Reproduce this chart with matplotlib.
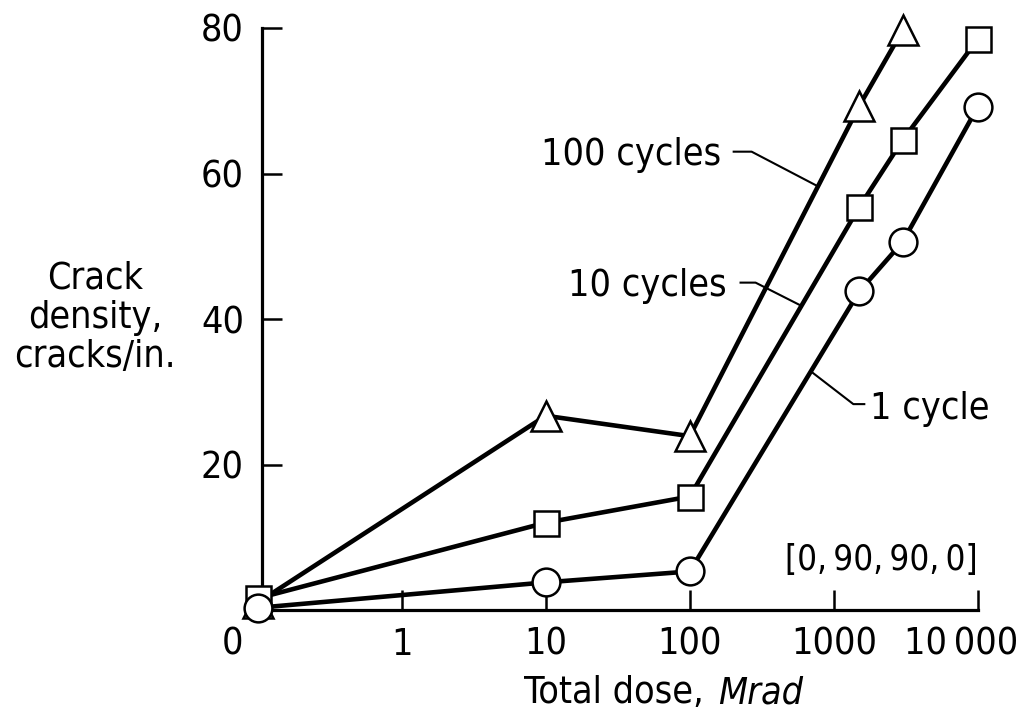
import os
import matplotlib
matplotlib.use('Agg')
import matplotlib.pyplot as plt
import matplotlib.transforms as mtransforms
from matplotlib import font_manager as fm
from matplotlib.ticker import NullLocator

# ---- data ----
x_ticks = [1, 10, 100, 1000, 10000]
x_tick_labels = ['1', '10', '100', '1000', '10\u2009000']
y_ticks = [20, 40, 60, 80]
y_tick_labels = ['20', '40', '60', '80']
ZERO_AT = 0.1  # log-axis position standing for zero dose

dose_100 = [0, 10, 100, 1500, 3000]
density_100 = [1.0, 26.7, 23.9, 69.3, 79.7]
dose_10 = [0, 10, 100, 1500, 3000, 10000]
density_10 = [1.6, 12.0, 15.6, 55.4, 64.6, 78.5]
dose_1 = [0, 10, 100, 1500, 3000, 10000]
density_1 = [0.3, 3.8, 5.3, 43.8, 50.6, 69.2]


# ---- font: look for a narrow / condensed sans face ----
def find_face(italic=False):
    bad = ['bold', 'light', 'thin', 'semi', 'medium', 'black', 'mono', 'serif',
           'extra', 'heavy']
    prefs = ['liberationsansnarrow', 'dejavusanscondensed', 'robotocondensed',
             'opensanscondensed', 'opensans_condensed', 'notosanscondensed',
             'narrow', 'condensed']
    files = sorted({f.fname for f in fm.fontManager.ttflist})
    for key in prefs:
        for path in files:
            b = os.path.basename(path).lower().replace('-', '').replace(' ', '')
            if key not in b:
                continue
            if any(w in b for w in bad):
                continue
            is_it = ('italic' in b) or ('oblique' in b)
            if is_it == italic:
                return path
    return None


narrow = find_face(False)
narrow_it = find_face(True)
FS = 27 if narrow else 24
if narrow:
    fp = fm.FontProperties(fname=narrow, size=FS)
    fpi = fm.FontProperties(fname=narrow_it, size=FS) if narrow_it else \
        fm.FontProperties(family='Liberation Sans', style='italic', size=FS)
else:
    fp = fm.FontProperties(family=['Liberation Sans', 'DejaVu Sans'], size=FS)
    fpi = fm.FontProperties(family=['Liberation Sans', 'DejaVu Sans'],
                            style='italic', size=FS)
fps = fp.copy()
fps.set_size(FS - 2)


def pos(d):
    return [ZERO_AT if v == 0 else v for v in d]


W, H = 1021, 714
fig = plt.figure(figsize=(W / 100, H / 100), dpi=100)
ax = fig.add_axes([262 / W, 1 - 610 / H, (978 - 262) / W, (610 - 28) / H])
ax.set_xscale('log')
ax.set_xlim(10 ** -0.969, 10000)
ax.set_ylim(0, 80)

LW = 3.3
mk = dict(markerfacecolor='white', markeredgecolor='black', markeredgewidth=1.8,
          color='black', lw=LW, clip_on=False)
ax.plot(pos(dose_100), density_100, marker='^', markersize=21, zorder=3, **mk)
ax.plot(pos(dose_10), density_10, marker='s', markersize=18, zorder=4, **mk)
ax.plot(pos(dose_1), density_1, marker='o', markersize=20, zorder=5, **mk)

for s in ['top', 'right']:
    ax.spines[s].set_visible(False)
for s in ['left', 'bottom']:
    ax.spines[s].set_linewidth(2.3)

ax.set_xticks(x_ticks, labels=x_tick_labels, fontproperties=fp)
ax.xaxis.set_minor_locator(NullLocator())
ax.set_yticks(y_ticks, labels=y_tick_labels, fontproperties=fp)
ax.tick_params(axis='both', direction='in', length=14.5, width=1.8)
ax.tick_params(axis='x', pad=12)
ax.tick_params(axis='y', pad=13)

# keep the last x label inside the figure, as in the reference
last = ax.get_xticklabels()[-1]
last.set_horizontalalignment('right')
last.set_transform(last.get_transform() +
                   mtransforms.ScaledTranslation(40 / 100, 0, fig.dpi_scale_trans))

# zero label at the corner
ax.text(-30 / 716, -0.029, '0', transform=ax.transAxes, ha='center', va='top',
        fontproperties=fp)

# annotations
lw_lead = 1.5
ax.plot([201.6, 268.5, 781], [63.0, 63.0, 58.2], color='black', lw=lw_lead)
ax.text(166, 61.1, '100 cycles', ha='right', va='baseline', fontproperties=fp)
ax.plot([225, 286, 596], [45.0, 45.0, 41.8], color='black', lw=lw_lead)
ax.text(180, 43.2, '10 cycles', ha='right', va='baseline', fontproperties=fp)
ax.plot([692, 1364, 1625], [32.8, 28.3, 28.3], color='black', lw=lw_lead)
ax.text(1790, 26.3, '1 cycle', ha='left', va='baseline', fontproperties=fp)
ax.text(10000, 5.5, '[0,\u200990,\u200990,\u20090]', ha='right', va='baseline',
        fontproperties=fps)

# axis titles
fig.text(704 / W, 1 - 703 / H, 'Total dose,', ha='right', va='baseline',
         fontproperties=fp)
fig.text(718 / W, 1 - 703 / H, 'Mrad', ha='left', va='baseline',
         fontproperties=fpi)
fig.text(95 / W, 1 - 318 / H, 'Crack\ndensity,\ncracks/in.', ha='center',
         va='center', multialignment='center', fontproperties=fp, linespacing=1.12)

fig.savefig('out.png', dpi=100)
